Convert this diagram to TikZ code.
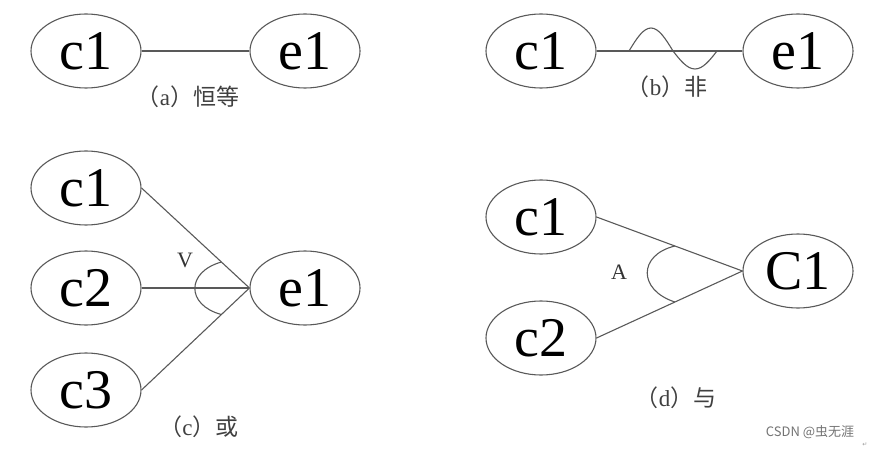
\documentclass[tikz,border=0pt]{standalone}
\usepackage{fontspec}
\setmainfont{Liberation Serif}
\newfontfamily\cjkfont{Noto Sans CJK SC}
\newfontfamily\markfont{DejaVu Sans}
\usetikzlibrary{shapes.geometric}

\begin{document}
\begin{tikzpicture}[x=1pt,y=-1pt,
  ell/.style={draw=black!65,ellipse,line width=1.1pt,minimum width=110pt,minimum height=74pt,inner sep=0pt,font=\fontsize{56}{58}\selectfont},
  caption/.style={text=black!75,font=\fontsize{23}{25}\selectfont,inner sep=0pt},
  sym/.style={text=black!80,font=\fontsize{22}{24}\selectfont,inner sep=0pt},
  link/.style={draw=black!65,line width=1.1pt}
]
\useasboundingbox (0,0) rectangle (875,449);

% (a) identity
\node[ell] (ac1) at (86,51) {c1};
\node[ell] (ae1) at (305,51) {e1};
\draw[link] (ac1) -- (ae1);
\node[caption] (acap) at (188,97) {{\cjkfont （}a{\cjkfont ）恒等}};

% (b) negation
\node[ell] (bc1) at (541,51) {c1};
\node[ell] (be1) at (798,51) {e1};
\draw[link] (bc1) -- (be1);
\coordinate (wavestart) at (629,51);
\draw[link] (wavestart) sin (651,28) cos (673,51) sin (695,69) cos (717,51);
\node[caption] (bcap) at (667,87) {{\cjkfont （}b{\cjkfont ）非}};

% (c) or
\node[ell] (cc1) at (86,188) {c1};
\node[ell] (cc2) at (86,288) {c2};
\node[ell] (cc3) at (86,390) {c3};
\node[ell] (ce1) at (305,288) {e1};
\draw[link] (cc1.east) -- (ce1.west) coordinate[pos=0.74] (cup);
\draw[link] (cc2.east) -- (ce1.west);
\draw[link] (cc3.east) -- (ce1.west) coordinate[pos=0.74] (clow);
\draw[link] (cup) .. controls (186,272) and (186,305) .. (clow);
\node[sym] (cor) at (185,260) {V};
\node[caption] (ccap) at (199,427) {{\cjkfont （}c{\cjkfont ）或}};

% (d) and
\node[ell] (dc1) at (541,217) {c1};
\node[ell] (dc2) at (541,338) {c2};
\node[ell] (dC1) at (798,271) {C1};
\draw[link] (dc1.east) -- (dC1.west) coordinate[pos=0.537] (dup);
\draw[link] (dc2.east) -- (dC1.west) coordinate[pos=0.537] (dlow);
\draw[link] (dup) .. controls (638,255) and (638,290) .. (dlow);
\node[sym] (dand) at (619,272) {A};
\node[caption] (dcap) at (676,398) {{\cjkfont （}d{\cjkfont ）与}};

% watermark
\node[text=black!55,font=\cjkfont\fontsize{13}{15}\selectfont,inner sep=0pt] (mark) at (810,432) {CSDN @虫无涯};
\node[text=black!40,font=\markfont\fontsize{6}{7}\selectfont,inner sep=0pt] (ret) at (865,445) {↵};
\end{tikzpicture}
\end{document}
